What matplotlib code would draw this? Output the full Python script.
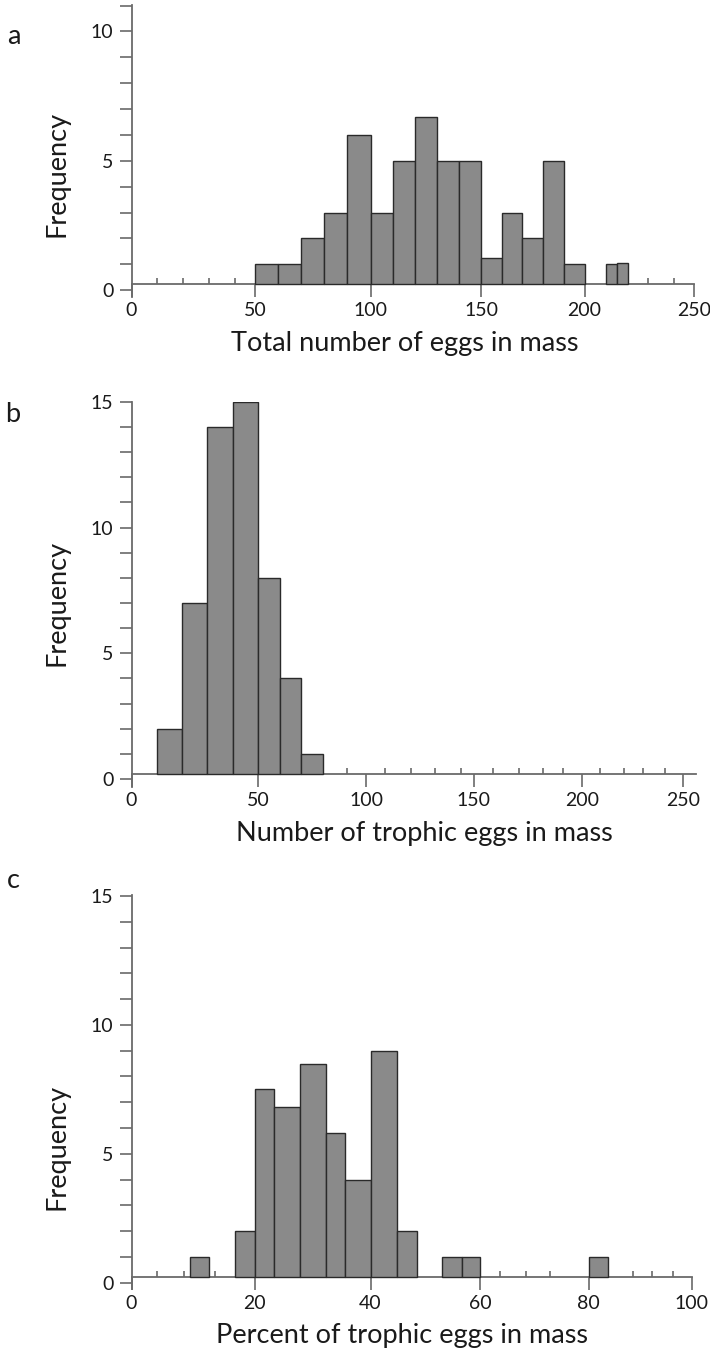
import matplotlib
matplotlib.use("Agg")
import matplotlib.pyplot as plt
import numpy as np

plt.rcParams['font.family'] = ['Lato', 'DejaVu Sans']

# (a) total eggs per mass, 10-egg bins
a_left = [50, 60, 70, 80, 90, 100, 110, 120, 130, 140, 150, 160, 170, 180, 190, 210, 215]
a_right = [60, 70, 80, 90, 100, 110, 120, 130, 140, 150, 160, 170, 180, 190, 200, 215, 220]
a_count = [1, 1, 2, 3, 6, 3, 5, 6.7, 5, 5, 1.25, 3, 2, 5, 1, 1, 1.05]

# (b) trophic eggs per mass
b_left = [10, 20, 30, 40, 50, 60, 70]
b_right = [20, 30, 40, 50, 60, 70, 80]
b_count = [2, 7, 14, 15, 8, 4, 1]

# (c) percent trophic eggs
c_left = [9.5, 16.8, 20, 23.4, 27.8, 32.3, 35.6, 40, 44.8, 53.1, 56.7, 80]
c_right = [12.6, 20, 23.4, 27.8, 32.3, 35.6, 40, 44.8, 48.5, 56.7, 60, 83.8]
c_count = [1, 2, 7.5, 6.8, 8.5, 5.8, 4, 9, 2, 1, 1, 1]

W, H = 710, 1353
fig = plt.figure(figsize=(W / 100, H / 100), dpi=100)

AXIS = '#6a6a6a'


def stretch(vals, pix):
    # printed x axes are not evenly spaced; map tick values to their printed spots
    vals = np.asarray(vals, float)
    pix = np.asarray(pix, float)
    s0 = (pix[1] - pix[0]) / (vals[1] - vals[0])
    s1 = (pix[-1] - pix[-2]) / (vals[-1] - vals[-2])
    v = np.concatenate([[vals[0] - 1e4], vals, [vals[-1] + 1e4]])
    p = np.concatenate([[pix[0] - 1e4 * s0], pix, [pix[-1] + 1e4 * s1]])
    return (lambda x: np.interp(x, v, p)), (lambda q: np.interp(q, p, v))


def panel(top, bottom, right, ylim, base, xvals, xpix, xlim, xmajor, xminor,
          ymajor, left, rightedge, count):
    ax = fig.add_axes([131.5 / W, 1 - bottom / H, (right - 131.5) / W, (bottom - top) / H])
    ax.set_xscale('function', functions=stretch(xvals, xpix))
    ax.set_xlim(*xlim)
    ax.set_ylim(*ylim)
    left = np.array(left)
    widths = np.array(rightedge) - left
    ax.bar(left, np.array(count) - base, width=widths, bottom=base, align='edge',
           color='#8a8a8a', edgecolor='#2a2a2a', linewidth=1.0, zorder=3)
    for s in ['top', 'right']:
        ax.spines[s].set_visible(False)
    ax.spines['bottom'].set_position(('data', base))
    for s in ['left', 'bottom']:
        ax.spines[s].set_color(AXIS)
        ax.spines[s].set_linewidth(1.3)
    ax.set_xticks(xmajor)
    ax.set_xticklabels([str(v) for v in xmajor])
    ax.set_xticks(xminor, minor=True)
    ax.set_yticks(ymajor)
    ax.set_yticklabels([str(v) for v in ymajor])
    ax.set_yticks([v for v in range(0, int(ylim[1]) + 1) if v not in ymajor], minor=True)
    ax.tick_params(axis='y', which='both', direction='out', length=9, width=1.2,
                   color=AXIS, labelsize=14, pad=4, labelcolor='#1a1a1a')
    ax.tick_params(axis='x', which='major', direction='out', length=9, width=1.2,
                   color=AXIS, labelsize=14, pad=4, labelcolor='#1a1a1a')
    ax.tick_params(axis='x', which='minor', direction='in', length=4.5, width=1.2,
                   color=AXIS)
    ax.patch.set_alpha(0)
    return ax


def px(x, y):
    return x / W, 1 - y / H


panel(5, 296.7, 694, (-0.25, 11.02), 0.24,
      [0, 50, 100, 150, 200, 250], [131.5, 255, 370.5, 481, 584.5, 694], (0, 250),
      [0, 50, 100, 150, 200, 250], [10.5, 21, 31.5, 42, 229, 241],
      [0, 5, 10], a_left, a_right, a_count)

panel(401.7, 786.7, 696, (-0.3, 15.0), 0.19,
      [0, 50, 100, 150, 200, 250, 256.4], [131.5, 258, 366, 473.7, 582, 683, 696], (0, 256.4),
      [0, 50, 100, 150, 200, 250],
      [91, 109, 121, 132, 144, 159, 171, 182, 191, 209, 221, 230, 241],
      [0, 5, 10, 15], b_left, b_right, b_count)

panel(895, 1289.3, 691.6, (-0.26, 15.04), 0.23,
      [0, 20, 40, 60, 80, 100], [131.5, 254.5, 370.5, 480, 588.7, 691.6], (0, 100),
      [0, 20, 40, 60, 80, 100], [4.2, 8.5, 13.6, 63.6, 68.4, 72.8, 88.6, 92.4, 96.3],
      [0, 5, 10, 15], c_left, c_right, c_count)

lab = dict(fontsize=19.5, color='#1a1a1a', ha='center', va='center')
fig.text(*px(14, 37), 'a', **lab)
fig.text(*px(13, 415), 'b', **lab)
fig.text(*px(13, 880), 'c', **lab)

fig.text(*px(57, 174), 'Frequency', rotation=90, **lab)
fig.text(*px(57, 603), 'Frequency', rotation=90, **lab)
fig.text(*px(57, 1147), 'Frequency', rotation=90, **lab)

fig.text(*px(405, 343), 'Total number of eggs in mass', **lab)
fig.text(*px(424, 833), 'Number of trophic eggs in mass', **lab)
fig.text(*px(402, 1335), 'Percent of trophic eggs in mass', **lab)

fig.savefig('out.png', dpi=100)
